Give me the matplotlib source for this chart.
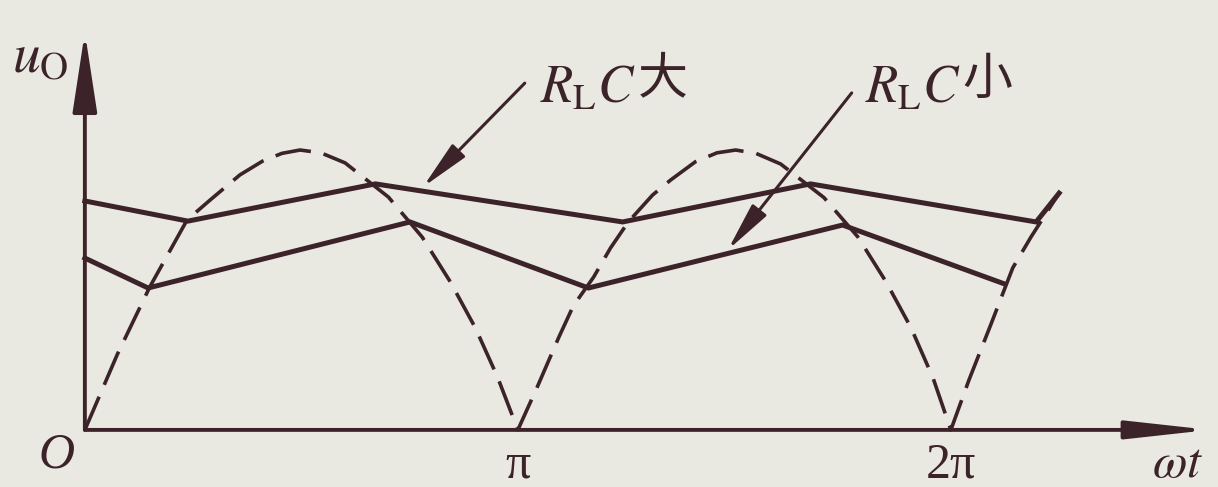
import matplotlib.pyplot as plt

plt.rcParams['mathtext.fontset'] = 'stix'
plt.rcParams['font.family'] = ['Liberation Serif', 'DejaVu Serif']

INK = '#3b2329'
PAPER = '#e9e8e1'

# full-wave rectified input (dashed); x in units of pi, u relative to the peak
rect_x = [0.0, 0.075, 0.150, 0.236, 0.289, 0.358, 0.410, 0.455, 0.497, 0.545,
          0.601, 0.701, 0.779, 0.844, 0.902, 0.953, 1.0,
          1.045, 1.094, 1.128, 1.175, 1.214, 1.255, 1.311, 1.353, 1.410, 1.460,
          1.503, 1.550, 1.607, 1.707, 1.785, 1.850, 1.908, 1.959, 2.0,
          2.042, 2.092, 2.143, 2.185, 2.250]
rect_u = [0.0, 0.270, 0.511, 0.750, 0.821, 0.911, 0.960, 0.988, 1.0, 0.990,
          0.954, 0.832, 0.689, 0.529, 0.364, 0.189, 0.0,
          0.154, 0.329, 0.443, 0.546, 0.650, 0.743, 0.839, 0.893, 0.958, 0.990,
          1.0, 0.988, 0.950, 0.830, 0.690, 0.530, 0.365, 0.185, 0.0,
          0.179, 0.375, 0.579, 0.689, 0.846]

# output with large R_L*C
big_x = [0.0, 0.238, 0.671, 1.242, 1.676, 2.197, 2.250]
big_u = [0.818, 0.746, 0.879, 0.743, 0.879, 0.743, 0.846]

# output with small R_L*C
small_x = [0.0, 0.146, 0.751, 1.163, 1.750, 2.125]
small_u = [0.614, 0.507, 0.743, 0.507, 0.732, 0.521]

tick_pos = [1, 2]
tick_labels = ['π', '2π']

fig = plt.figure(figsize=(12.18, 4.87), dpi=100, facecolor=PAPER)
ax = fig.add_axes([0, 0, 1, 1])
ax.set_facecolor(PAPER)
ax.set_xlim(-0.196, 2.617)
ax.set_ylim(-0.204, 1.536)
ax.axis('off')

# axes with arrow heads
ax.annotate('', xy=(2.598, 0), xytext=(0, 0),
            arrowprops=dict(arrowstyle='-|>,head_length=5.0,head_width=0.55',
                            lw=2.8, color=INK, shrinkA=0, shrinkB=0))
ax.annotate('', xy=(0, 1.421), xytext=(0, 0),
            arrowprops=dict(arrowstyle='-|>,head_length=4.9,head_width=0.75',
                            lw=2.8, color=INK, shrinkA=0, shrinkB=0))

ax.plot(rect_x, rect_u, color=INK, lw=2.6, linestyle=(0, (10, 3.6)))
ax.plot(big_x, big_u, color=INK, lw=3.6, solid_joinstyle='miter')
ax.plot(small_x, small_u, color=INK, lw=3.6, solid_joinstyle='miter')

# axis labels
ax.text(-0.168, 1.33, r'$u_{\mathrm{O}}$', fontsize=40, color=INK,
        ha='left', va='center')
ax.text(-0.065, -0.089, 'O', fontsize=36, style='italic', color=INK,
        ha='center', va='center')
for p, lab in zip(tick_pos, tick_labels):
    ax.text(p, -0.125, lab, fontsize=36, color=INK, ha='center', va='center')
ax.text(2.524, -0.125, r'$\omega t$', fontsize=36, color=INK,
        ha='center', va='center')

# curve labels with pointer arrows
arrow = dict(arrowstyle='-|>,head_length=3.0,head_width=0.55',
             lw=2.2, color=INK, shrinkA=0, shrinkB=0)
ax.annotate('', xy=(0.781, 0.868), xytext=(1.016, 1.239), arrowprops=arrow)
ax.annotate('', xy=(1.485, 0.643), xytext=(1.771, 1.204), arrowprops=arrow)

for x0, word in [(1.051, '大'), (1.801, '小')]:
    t = ax.text(x0, 1.168, r'$R_{\mathrm{L}}C$', fontsize=38, color=INK,
                ha='left', va='baseline')
    ax.annotate(word, xy=(1, 0), xycoords=t, xytext=(1, 6),
                textcoords='offset points', fontsize=36, color=INK,
                family=['Noto Sans CJK SC', 'DejaVu Sans'],
                ha='left', va='bottom')

fig.savefig('out.png', dpi=100, facecolor=PAPER)
